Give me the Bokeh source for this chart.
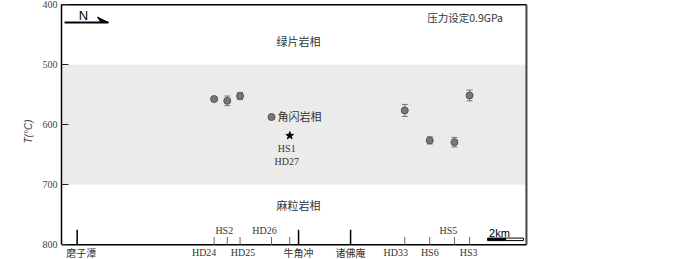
from bokeh.plotting import figure
from bokeh.models import Range1d, FixedTicker, ColumnDataSource
from bokeh.core.properties import value
from bokeh.embed import file_html
from bokeh.resources import INLINE

# ---- data ----
sample_names = ["HD24", "HS2", "HD25", "HD26", "HD33", "HS6", "HS5", "HS3"]
sample_km = [8.48, 9.21, 9.92, 11.67, 19.07, 20.46, 21.83, 22.67]
sample_T = [557, 560, 552, 587, 576, 626, 629, 551]
sample_err = [4, 8, 6, 0, 10, 6, 8, 9]
label_side = ["below", "above", "below", "above", "below", "below", "above", "below"]
label_dx = [-10, -3, 3, -7, -9, 0, -6, -1]

star_names = ["HS1", "HD27"]
star_km = [12.68]
star_T = [618]

place_names = ["磨子潭", "牛角冲", "诸佛庵"]
place_km = [0.87, 13.17, 16.06]

facies_names = ["绿片岩相", "角闪岩相", "麻粒岩相"]
facies_T = [460, 586, 733]
y_ticks = [400, 500, 600, 700, 800]
band = (500, 700)
section_km = 25.83
scale_km = 2

CJK = "Noto Sans CJK SC"
SERIF = "Liberation Serif"

p = figure(width=700, height=259, output_backend="svg", toolbar_location=None,
           x_range=Range1d(0, 35.5), y_range=Range1d(824.5, 397.8),
           min_border_left=61, min_border_right=0, min_border_top=3, min_border_bottom=0)
p.outline_line_color = None
p.grid.visible = False
p.xaxis.visible = False

ya = p.yaxis[0]
ya.bounds = (400, 800)
ya.ticker = FixedTicker(ticks=y_ticks)
ya.major_tick_in = 7
ya.major_tick_out = 0
ya.minor_tick_line_color = None
ya.axis_line_width = 1.5
ya.axis_line_color = "black"
ya.major_tick_line_color = "#222222"
ya.major_label_text_font = SERIF
ya.major_label_text_font_size = "10px"
ya.major_label_text_color = "#444444"
ya.major_label_standoff = 4
ya.axis_label = "T(°C)"
ya.axis_label_text_font = "Liberation Sans"
ya.axis_label_text_font_style = "italic"
ya.axis_label_text_font_size = "10px"
ya.axis_label_standoff = 6

# shaded amphibolite band
p.quad(left=[0.05], right=[section_km], bottom=[band[0]], top=[band[1]],
       fill_color="#ebebeb", line_color=None)

# frame lines
p.segment(x0=[0, 0], y0=[400, 800], x1=[section_km, section_km], y1=[400, 800],
          line_color="black", line_width=1.5)
p.segment(x0=[section_km], y0=[400], x1=[section_km], y1=[800],
          line_color="#444444", line_width=2)

# error bars
lo = [t - e for t, e in zip(sample_T, sample_err)]
hi = [t + e for t, e in zip(sample_T, sample_err)]
src = ColumnDataSource(dict(x=sample_km, y=sample_T, lo=lo, hi=hi))
p.segment(x0="x", y0="lo", x1="x", y1="hi", source=src, line_color="#777777", line_width=1)
p.scatter(x=sample_km + sample_km, y=lo + hi, marker="dash", size=6,
          line_color="#777777", line_width=1)

p.scatter(x="x", y="y", source=src, size=7, fill_color="#777777",
          line_color="#555555", line_width=1)
p.scatter(x=star_km, y=star_T, marker="star", size=8, fill_color="black", line_color="black")
p.text(x=[star_km[0]] * 2, y=[star_T[0] + 22, star_T[0] + 43], text=star_names,
       text_font=value(SERIF), text_font_size="10px", text_color="#333333",
       text_align="center", text_baseline="middle", x_offset=-3)

# sample ticks and labels
p.segment(x0=sample_km + star_km, y0=[787] * 9, x1=sample_km + star_km, y1=[800] * 9,
          line_color="#666666", line_width=1)
above = [i for i, s in enumerate(label_side) if s == "above"]
below = [i for i, s in enumerate(label_side) if s == "below"]
for idx, yy in ((above, 775.5), (below, 813)):
    p.text(x=[sample_km[i] for i in idx], y=[yy] * len(idx),
           text=[sample_names[i] for i in idx], x_offset=[label_dx[i] for i in idx],
           text_font=value(SERIF), text_font_size="10px", text_color="#333333",
           text_align="center", text_baseline="middle")

# place ticks and labels
p.segment(x0=place_km, y0=[775] * 3, x1=place_km, y1=[800] * 3,
          line_color="black", line_width=1.5)
p.text(x=place_km, y=[812.5] * 3, text=place_names, x_offset=[4, 0, 0],
       text_font=value(CJK), text_font_size="10px", text_color="#333333",
       text_align="center", text_baseline="middle")

# facies labels
p.text(x=[13.17, 12.0, 13.17], y=facies_T, text=facies_names,
       text_align=["center", "left", "center"],
       text_font=value(CJK), text_font_size="11px", text_color="#333333",
       text_baseline="middle")
p.text(x=[22.42], y=[421], text=["压力设定0.9GPa"],
       text_font=value(CJK), text_font_size="10.5px", text_color="#333333",
       text_align="center", text_baseline="middle")

# north arrow
p.segment(x0=[0.17], y0=[429.5], x1=[2.6], y1=[429.5], line_color="black", line_width=2)
p.patch(x=[2.0, 2.61, 2.2], y=[420.5, 429.5, 429.5], fill_color="black", line_color="black",
        line_width=1)
p.text(x=[1.22], y=[418], text=["N"], text_font=value("Liberation Sans"),
       text_font_size="13px", text_color="black", text_align="center",
       text_baseline="middle")

# scale bar
sb0 = section_km - 0.16 - scale_km
p.quad(left=[sb0], right=[sb0 + scale_km / 2], bottom=[793], top=[788.8],
       fill_color="black", line_color="black", line_width=1)
p.quad(left=[sb0 + scale_km / 2], right=[sb0 + scale_km], bottom=[793], top=[788.8],
       fill_color="white", line_color="black", line_width=1)
p.text(x=[sb0 + scale_km * 0.33], y=[781], text=["2km"], text_font=value("Liberation Sans"),
       text_font_size="11px", text_color="black", text_align="center",
       text_baseline="middle")

open("out.html", "w").write(file_html(p, INLINE))
